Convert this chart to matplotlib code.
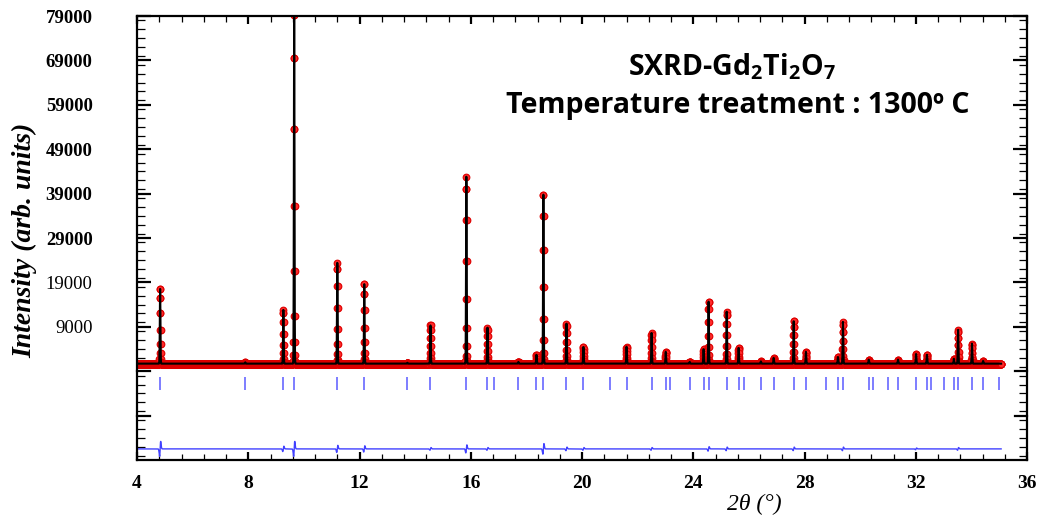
import numpy as np
import matplotlib.pyplot as plt
from matplotlib.ticker import MultipleLocator

plt.rcParams['mathtext.fontset'] = 'custom'
plt.rcParams['mathtext.rm'] = 'Open Sans:bold'
plt.rcParams['mathtext.bf'] = 'Open Sans:bold'

# reflection positions (2theta, deg) for the Bragg marker row
bragg_pos = [4.83, 7.89, 9.26, 9.65, 11.20, 12.17, 13.72, 14.55, 15.84, 16.60,
             16.82, 17.71, 18.36, 18.61, 19.44, 20.05, 20.99, 21.60, 22.50, 23.01,
             23.15, 23.87, 24.37, 24.55, 25.20, 25.63, 25.81, 26.43, 26.89, 27.61,
             28.05, 28.77, 29.20, 29.38, 30.31, 30.46, 31.00, 31.36, 32.01, 32.40,
             32.55, 33.01, 33.37, 33.52, 34.02, 34.42, 34.99]

# observed peaks: position and top intensity (axis units)
peak_pos = [4.83, 7.89, 9.26, 9.65, 11.20, 12.17, 13.72, 14.55, 15.84, 16.60,
            17.71, 18.36, 18.61, 19.44, 20.05, 21.60, 22.50, 23.01, 23.87, 24.37,
            24.55, 25.20, 25.63, 26.43, 26.89, 27.61, 28.05, 29.20, 29.38, 30.31,
            31.36, 32.01, 32.40, 33.37, 33.52, 34.02, 34.42]
peak_top = [17800, 1000, 12800, 80500, 23400, 18900, 900, 9450, 42800, 8800,
            1100, 2700, 39400, 9700, 4500, 4500, 7600, 3400, 1100, 4000,
            14900, 12400, 4300, 1200, 2000, 10400, 3400, 2200, 10100, 1600,
            1600, 2900, 2700, 1800, 8300, 5200, 1300]

# residual wiggles seen in the difference curve
res_pos = [4.83, 9.26, 9.65, 11.20, 12.17, 14.55, 15.84, 16.60, 18.61, 19.44,
           20.05, 22.50, 24.55, 25.20, 27.61, 29.38, 32.01, 33.52]
res_amp = [1700, 600, 1700, 800, 700, 300, 900, 300, 1200, 400,
           300, 300, 500, 400, 400, 400, 200, 300]

background = 700
diff_offset = -18500
bragg_lo, bragg_hi = -2300, -5200
tth_start, tth_end, step = 4.0, 35.07, 0.004
sigma = 0.011

tth = np.arange(tth_start, tth_end, step)
ycalc = np.full_like(tth, background, dtype=float)
for p, h in zip(peak_pos, peak_top):
    ycalc += (h - background) * np.exp(-0.5 * ((tth - p) / sigma) ** 2)
yobs = ycalc.copy()

resid = np.zeros_like(tth)
for p, a in zip(res_pos, res_amp):
    u = (tth - p) / 0.02
    resid += a * u * np.exp(0.5 - 0.5 * u ** 2)
ydiff = diff_offset + resid

serif = 'Liberation Serif'
fig = plt.figure(figsize=(10.39, 5.20), dpi=100)
ax = fig.add_axes([0.1319, 0.1154, 0.8566, 0.8538])

ax.plot(tth, yobs, 'o', ms=4.8, mfc='#ff2a2a', mec='#dd0000', mew=0.8, zorder=2)
ax.plot(tth, ycalc, color='black', lw=1.5, zorder=3)
ax.vlines(bragg_pos, bragg_hi, bragg_lo, color='#5a5aff', lw=1.1, zorder=2)
ax.plot(tth, ydiff, color='#4040ff', lw=1.0, zorder=2)

ax.set_xlim(4, 36)
ax.set_ylim(-21000, 79000)
ax.xaxis.set_major_locator(MultipleLocator(4))
ax.xaxis.set_minor_locator(MultipleLocator(0.8))
ax.set_yticks([9000, 19000, 29000, 39000, 49000, 59000, 69000, 79000])
ax.yaxis.set_minor_locator(MultipleLocator(2000))

for s in ax.spines.values():
    s.set_linewidth(1.6)
ax.tick_params(axis='y', which='major', direction='in', length=10, width=1.6,
               right=True, pad=32)
ax.tick_params(axis='y', which='minor', direction='in', length=6, width=0.9, right=True)
ax.tick_params(axis='x', which='major', direction='in', length=6, width=1.6,
               top=True, pad=11)
ax.tick_params(axis='x', which='minor', direction='in', length=4, width=0.9, top=True)

# extra major marks on the left/right in the lower part
for yv in (-1000, -11000):
    ax.plot([4, 4.45], [yv, yv], color='black', lw=1.6, clip_on=False, zorder=4)
    ax.plot([35.55, 36], [yv, yv], color='black', lw=1.6, clip_on=False, zorder=4)

for lbl in ax.get_yticklabels():
    lbl.set_fontfamily(serif)
    lbl.set_fontsize(13.5)
    lbl.set_fontweight('bold')
ax.get_yticklabels()[0].set_fontweight('normal')
ax.get_yticklabels()[1].set_fontweight('normal')
for lbl in ax.get_xticklabels():
    lbl.set_fontfamily(serif)
    lbl.set_fontsize(14)
    lbl.set_fontweight('bold')

ax.set_ylabel('Intensity (arb. units)', fontfamily=serif, fontsize=20,
              fontweight='bold', fontstyle='italic')
ax.yaxis.set_label_coords(-0.126, 0.495)
ax.yaxis.label.set_va('center')
ax.set_xlabel('2θ (°)', fontfamily=serif, fontsize=17, fontstyle='italic')
ax.xaxis.set_label_coords(0.694, -0.101)
ax.xaxis.label.set_va('center')

fig.text(0.705, 0.856, r'SXRD-Gd$_\mathbf{2}$Ti$_\mathbf{2}$O$_\mathbf{7}$',
         fontfamily='Open Sans', fontsize=20.5, fontweight='bold', ha='center',
         va='baseline')
fig.text(0.710, 0.783, 'Temperature treatment : 1300º C',
         fontfamily='Open Sans', fontsize=20.5, fontweight='bold', ha='center',
         va='baseline')

fig.savefig('out.png', dpi=100)
